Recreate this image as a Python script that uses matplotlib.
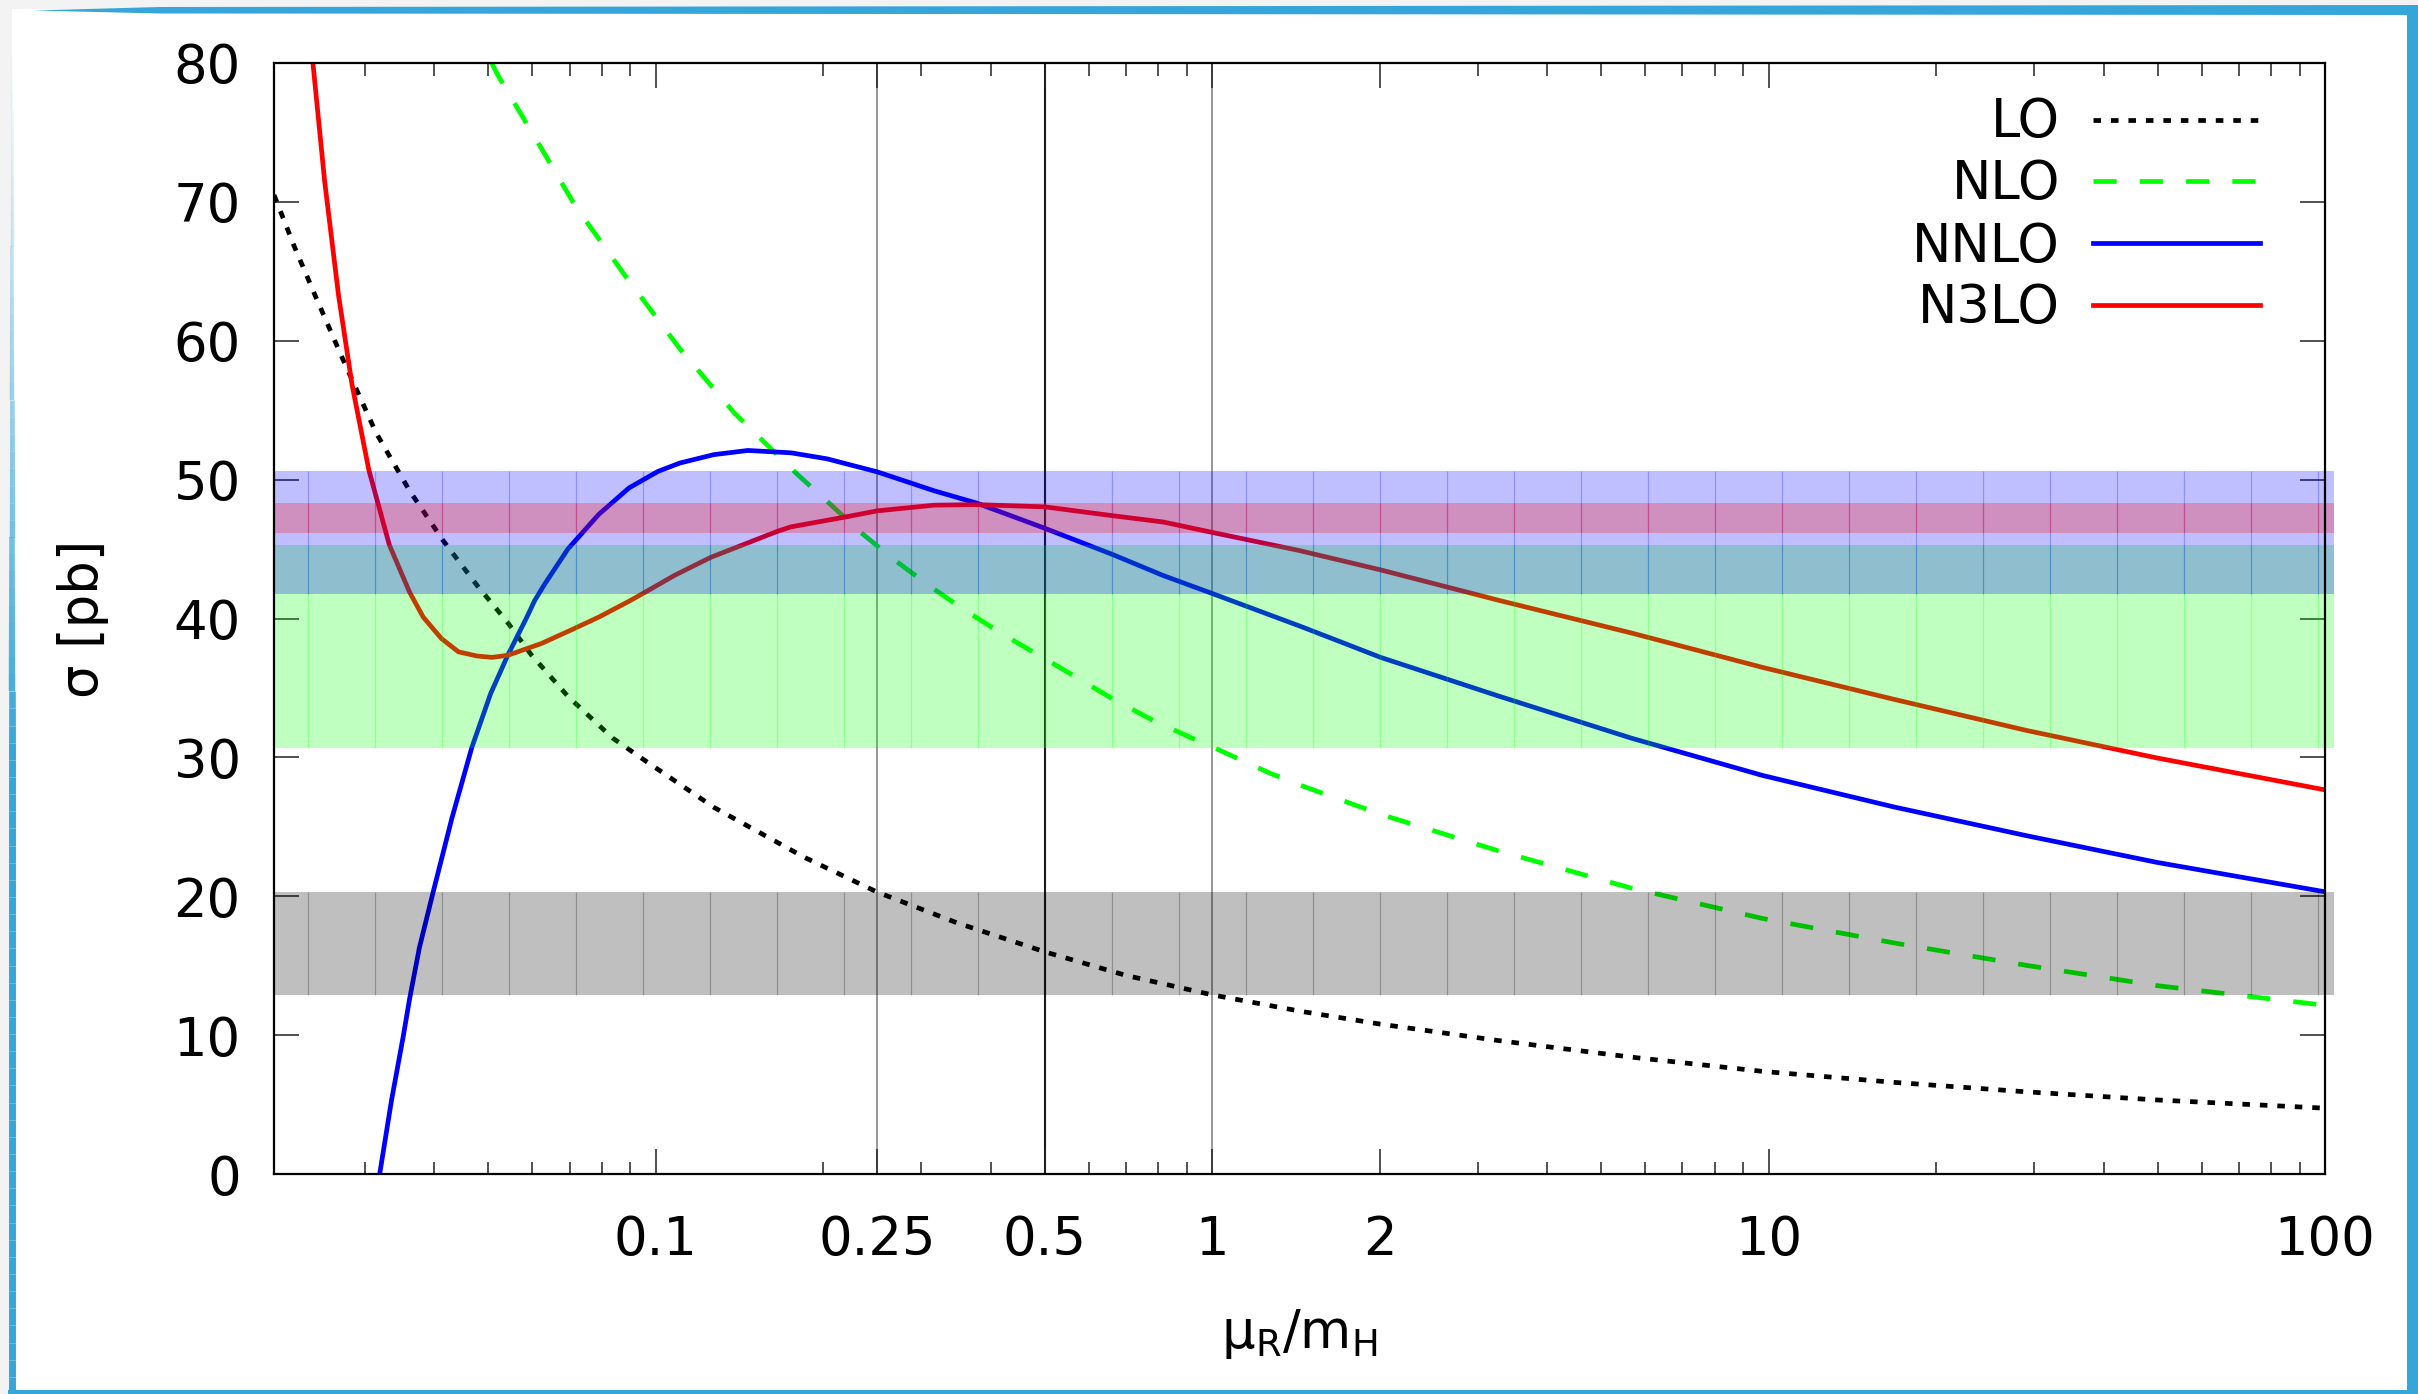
import numpy as np
import matplotlib
matplotlib.use("Agg")
import matplotlib.pyplot as plt
from matplotlib.patches import Rectangle, Polygon
from matplotlib.collections import LineCollection
from matplotlib.transforms import blended_transform_factory
from matplotlib.ticker import FixedLocator, NullFormatter, NullLocator

plt.rcParams['font.family'] = ['DejaVu Sans']

# ---------------- data ----------------
lo_x = [0.0206, 0.0224, 0.0244, 0.0273, 0.0314, 0.0361, 0.0415, 0.0477, 0.0542, 0.0597,
        0.0695, 0.0836, 0.0962, 0.1272, 0.185, 0.25, 0.347, 0.5, 0.7, 1.0,
        1.45, 2.0, 3.28, 5.65, 9.75, 16.8, 29.0, 50.0, 100.0]
lo_y = [70.5, 66.8, 63.3, 58.8, 53.4, 49.2, 45.6, 42.4, 39.7, 37.4,
        34.4, 31.4, 29.7, 26.4, 22.8, 20.3, 18.1, 16.0, 14.3, 12.9,
        11.7, 10.8, 9.6, 8.42, 7.39, 6.6, 5.92, 5.33, 4.74]

nlo_x = [0.0507, 0.0523, 0.0597, 0.0717, 0.0884, 0.1106, 0.1384, 0.1794, 0.205, 0.2335,
         0.2688, 0.3116, 0.356, 0.419, 0.493, 0.563, 0.663, 0.78, 0.918, 1.0,
         1.272, 1.449, 2.008, 3.28, 5.65, 9.75, 16.8, 29.0, 50.0, 100.0]
nlo_y = [80.0, 78.96, 75.1, 69.7, 64.6, 59.4, 54.8, 50.4, 48.3, 46.2,
         44.2, 42.3, 40.7, 38.9, 37.25, 35.9, 34.2, 32.7, 31.4, 30.76,
         28.85, 27.96, 25.9, 23.25, 20.6, 18.4, 16.64, 15.03, 13.56, 12.15]

nnlo_x = [0.0319, 0.0335, 0.0352, 0.0361, 0.0376, 0.0398, 0.0430, 0.0467, 0.0505, 0.0542,
          0.0585, 0.0606, 0.0632, 0.0695, 0.079, 0.0895, 0.101, 0.1106, 0.1272, 0.1464,
          0.175, 0.203, 0.25, 0.3163, 0.378, 0.5, 0.663, 0.816, 1.0, 1.449,
          2.008, 3.28, 5.65, 9.75, 16.8, 29.0, 50.0, 100.0]
nnlo_y = [0.0, 5.3, 10.0, 12.6, 16.3, 20.3, 25.6, 30.7, 34.6, 37.35,
          40.0, 41.3, 42.5, 45.0, 47.5, 49.4, 50.6, 51.2, 51.8, 52.1,
          51.93, 51.5, 50.56, 49.2, 48.3, 46.5, 44.6, 43.1, 41.8, 39.4,
          37.2, 34.4, 31.4, 28.7, 26.43, 24.37, 22.43, 20.32]

n3lo_x = [0.0242, 0.0254, 0.0269, 0.02845, 0.0305, 0.0332, 0.0361, 0.0382, 0.0412, 0.0442,
          0.0477, 0.0508, 0.0542, 0.0623, 0.0707, 0.079, 0.0896, 0.0948, 0.108, 0.1255,
          0.166, 0.175, 0.2185, 0.25, 0.3163, 0.378, 0.5, 0.663, 0.816, 1.0,
          1.432, 2.008, 3.28, 5.65, 9.75, 16.8, 29.0, 50.0, 100.0]
n3lo_y = [80.0, 71.5, 63.3, 56.85, 50.7, 45.3, 41.9, 40.1, 38.55, 37.6,
          37.3, 37.2, 37.35, 38.2, 39.2, 40.1, 41.25, 41.8, 43.1, 44.4,
          46.3, 46.6, 47.3, 47.75, 48.16, 48.2, 48.04, 47.4, 46.95, 46.2,
          44.9, 43.5, 41.3, 38.97, 36.48, 34.18, 31.95, 29.95, 27.66]

order_names = ['LO', 'NLO', 'NNLO', 'N3LO']
band_low = [12.9, 30.7, 41.8, 46.15]
band_high = [20.3, 45.3, 50.6, 48.3]
scale_marks = [0.25, 0.5, 1.0]

xtick_vals = [0.1, 0.25, 0.5, 1, 2, 10, 100]
xtick_labels = ['0.1', '0.25', '0.5', '1', '2', '10', '100']
ytick_vals = [0, 10, 20, 30, 40, 50, 60, 70, 80]

# ---------------- figure ----------------
W, H = 2418, 1394
fig = plt.figure(figsize=(W / 100, H / 100), dpi=100)
fig.patch.set_facecolor('#f3f3f3')


def fig_rect(x0, y0, x1, y1, **kw):
    return Rectangle((x0 / W, 1 - y1 / H), (x1 - x0) / W, (y1 - y0) / H,
                     transform=fig.transFigure, **kw)


def fpt(x, y):
    return (x / W, 1 - y / H)


frame_blue = '#36a6da'
fig.patches.append(fig_rect(12, 9, 2410, 1392, facecolor='white', edgecolor='none', zorder=0))
fig.patches.append(Polygon([fpt(33, 10.5), fpt(160, 7), fpt(2418, 5), fpt(2418, 15), fpt(160, 13.5)],
                           closed=True, transform=fig.transFigure, facecolor=frame_blue,
                           edgecolor='none', zorder=1))
fig.patches.append(fig_rect(2407, 5, 2418, 1394, facecolor=frame_blue, edgecolor='none', zorder=1))
fig.patches.append(fig_rect(8, 1389.5, 2418, 1394, facecolor=frame_blue, edgecolor='none', zorder=1))
# left edge with fade toward top
ys = np.linspace(40, 1394, 80)
segs = [[fpt(11.5, ys[i]), fpt(11.5, ys[i + 1])] for i in range(len(ys) - 1)]
fr = np.clip((ys[:-1] - 40) / 700.0, 0, 1)
cols = [(0.212, 0.651, 0.855, a) for a in fr]
lws = 1.5 + 3.5 * fr
fig.add_artist(LineCollection(segs, colors=cols, linewidths=lws, transform=fig.transFigure, zorder=1))

ax = fig.add_axes([274 / W, 1 - 1174 / H, (2325 - 274) / W, (1174 - 63) / H])
ax.set_zorder(2)
ax.set_facecolor('white')
ax.set_xscale('log')

# reference scale lines
for xv in scale_marks:
    if xv == 0.5:
        ax.axvline(xv, color='#1a1a1a', lw=1.5, zorder=1)
    else:
        ax.axvline(xv, color='#7a7a7a', lw=1.1, zorder=1)

lw = 3.4
ax.plot(lo_x, lo_y, color='black', lw=lw, ls=(0, (1.6, 2.1)), dash_capstyle='butt', zorder=2)
ax.plot(nlo_x, nlo_y, color='#00ff00', lw=lw, ls=(0, (4.9, 4.9)), dash_capstyle='butt', zorder=2)
ax.plot(nnlo_x, nnlo_y, color='#0000ff', lw=lw, zorder=2)
ax.plot(n3lo_x, n3lo_y, color='#ff0000', lw=lw, zorder=2)

xmin, xmax = 0.0206, 100.0
xext = xmax * 10 ** (9 / 555.5)
band_colors = ['#000000', '#00ff00', '#0000ff', '#ff0000']
trans = blended_transform_factory(ax.transAxes, ax.transData)
seams = np.arange(0.0165, 1.004, 0.03267)
for lo, hi, c in zip(band_low, band_high, band_colors):
    ax.fill_between([xmin, xext], [lo, lo], [hi, hi], color=c, alpha=0.25, lw=0,
                    zorder=3, clip_on=False)
    ax.vlines(seams, lo, hi, transform=trans, colors=c, alpha=0.25, lw=0.9,
              zorder=3, clip_on=False)

ax.set_xlim(xmin, xmax)
ax.set_ylim(0, 80)

ax.set_xticks(xtick_vals)
ax.set_xticklabels(xtick_labels)
minor = [m * d for d in (0.01, 0.1, 1, 10) for m in range(2, 10)]
minor = [v for v in minor if xmin < v < xmax and not any(abs(v - t) < 1e-9 for t in xtick_vals)]
ax.xaxis.set_minor_locator(FixedLocator(minor))
ax.xaxis.set_minor_formatter(NullFormatter())
ax.set_yticks(ytick_vals)
ax.yaxis.set_minor_locator(NullLocator())

ax.tick_params(which='both', direction='in', top=True, right=True, width=1.1, color='#222222')
ax.tick_params(which='major', length=18, labelsize=38)
ax.tick_params(which='minor', length=9)
ax.tick_params(axis='x', which='major', pad=28.5)
ax.tick_params(axis='y', which='major', pad=24)
for s in ax.spines.values():
    s.set_linewidth(1.6)
    s.set_zorder(6)

ax.set_xlabel('μ$_\\mathregular{R}$/m$_\\mathregular{H}$', fontsize=38)
ax.xaxis.set_label_coords(0.5, (1174 - 1348) / 1111)
ax.xaxis.label.set_va('baseline')
ax.set_ylabel('σ [pb]', fontsize=38)
ax.yaxis.set_label_coords((83 - 274) / 2051, 0.5)
ax.yaxis.label.set_va('center')

# legend (manual, right-aligned labels)
leg_styles = [dict(color='black', ls=(0, (1.6, 2.1))),
              dict(color='#00ff00', ls=(0, (4.9, 4.9))),
              dict(color='#0000ff', ls='-'),
              dict(color='#ff0000', ls='-')]
line_y = [120, 180.7, 243, 305]
base_y = [137.3, 199.3, 261.7, 323.3]
for name, st, ly, by in zip(order_names, leg_styles, line_y, base_y):
    ax.text((2060 - 274) / 2051, (1174 - by) / 1111, name, transform=ax.transAxes,
            ha='right', va='baseline', fontsize=38, zorder=7)
    ax.plot([(2093 - 274) / 2051, (2260 - 274) / 2051], [(1174 - ly) / 1111] * 2,
            transform=ax.transAxes, lw=lw, dash_capstyle='butt', zorder=7, **st)

fig.savefig('out.png', dpi=100, facecolor=fig.get_facecolor())
